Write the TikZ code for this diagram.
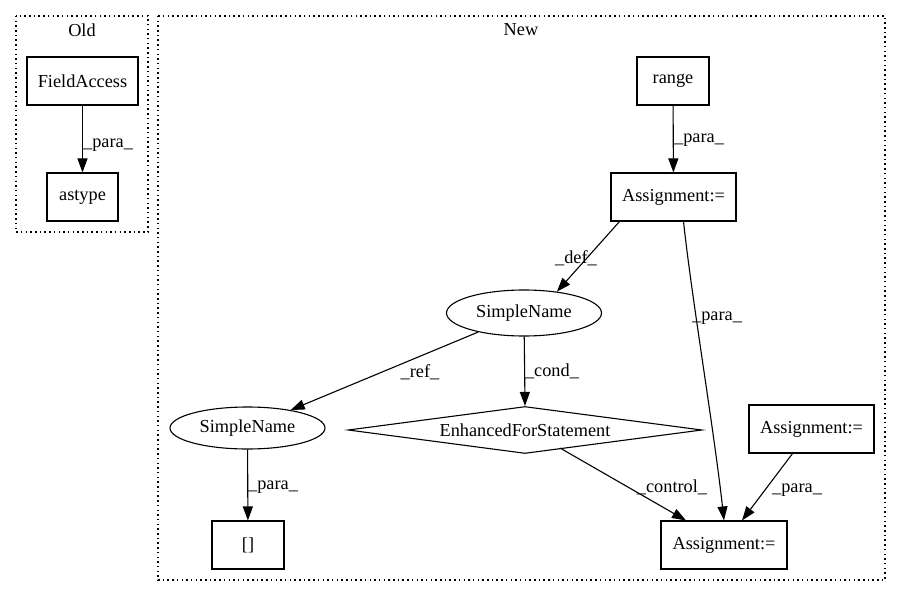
\documentclass[tikz,border=0pt]{standalone}
\usepackage{fontspec}
\setmainfont{Liberation Serif}
\usetikzlibrary{shapes.geometric,arrows.meta}
\begin{document}
\begin{tikzpicture}[x=1pt,y=-1pt,
  every node/.style={font=\fontsize{18.3}{21}\selectfont},
  box/.style={draw,line width=1.1pt,rectangle,inner sep=0pt},
  ell/.style={draw,line width=1.1pt,ellipse,inner sep=0pt},
  dia/.style={draw,line width=1.1pt,diamond,aspect=7.5,inner sep=0pt},
  cluster/.style={draw,line width=1.1pt,dash pattern=on 1.5pt off 3.2pt},
  edge/.style={draw,line width=1.1pt,-{Triangle[length=14pt,width=10pt]}},
  lbl/.style={inner sep=0pt,anchor=center}]
\useasboundingbox (0,0) rectangle (901,596);
% clusters
\draw[cluster] (16,16) rectangle (148,232);
\node (oldt) at (82,30) {Old};
\draw[cluster] (158,16) rectangle (885,580);
\node (newt) at (521,30) {New};
% old nodes
\node[box,minimum width=111pt,minimum height=48pt] (fa) at (82.5,81) {FieldAccess};
\node[box,minimum width=71pt,minimum height=48pt] (as) at (82.5,197) {astype};
\draw[edge] (fa) -- (as);
\node[lbl] at (108,145) {\_para\_};
% new nodes
\node[box,minimum width=72pt,minimum height=48pt] (rg) at (673,81) {range};
\node[box,minimum width=125pt,minimum height=48pt] (a1) at (673.5,197) {Assignment:=};
\node[ell,minimum width=155pt,minimum height=46pt] (s1) at (524,313) {SimpleName};
\node[dia,minimum width=354pt,minimum height=47pt] (ef) at (525,430) {};
\node at (525,430) {EnhancedForStatement};
\node[ell,minimum width=155pt,minimum height=42pt] (s2) at (247.5,428) {SimpleName};
\node[box,minimum width=72pt,minimum height=48pt] (br) at (248,545) {[]};
\node[box,minimum width=126pt,minimum height=48pt] (a3) at (724,545) {Assignment:=};
\node[box,minimum width=125pt,minimum height=48pt] (a2) at (811.5,429) {Assignment:=};
% edges
\draw[edge] (rg) -- (a1);
\node[lbl] at (699,140) {\_para\_};
\draw[edge] ([xshift=-54pt]a1.south) -- (s1.33);
\node[lbl] at (576,258) {\_def\_};
\draw[edge] ([xshift=10pt]a1.south) .. controls (692,300) and (714,430) .. (a3.north);
\node[lbl] at (717,318) {\_para\_};
\draw[edge] (s1) -- (s2);
\node[lbl] at (420,372) {\_ref\_};
\draw[edge] (s1) -- (ef.north);
\node[lbl] at (552,371) {\_cond\_};
\draw[edge] (s2) -- (br);
\node[lbl] at (273,487) {\_para\_};
\draw[edge] (560,448) -- ([xshift=-38pt]a3.north);
\node[lbl] at (672,487) {\_control\_};
\draw[edge] ([xshift=-19pt]a2.south) -- ([xshift=18pt]a3.north);
\node[lbl] at (797,490) {\_para\_};
\end{tikzpicture}
\end{document}
